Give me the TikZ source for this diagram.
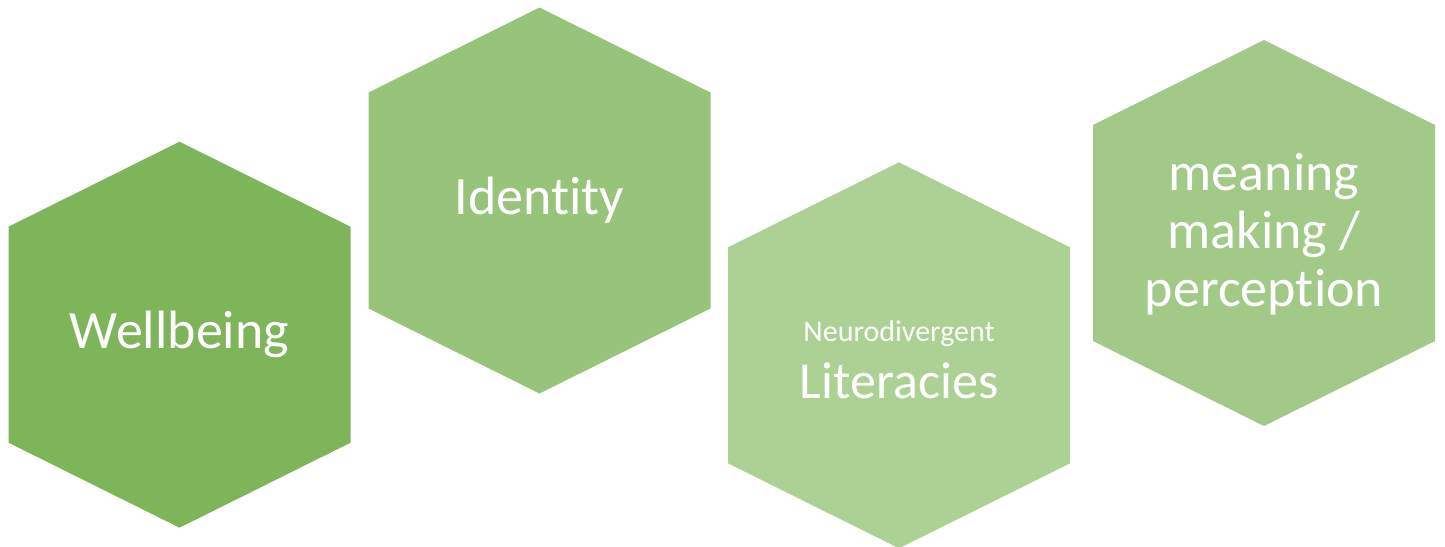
\documentclass[tikz,border=0pt]{standalone}
\usepackage{fontspec}
\setmainfont{Carlito}[Ligatures=NoCommon]
\definecolor{wellgreen}{HTML}{7EB55A}
\definecolor{identgreen}{HTML}{98C37A}
\definecolor{neurogreen}{HTML}{ADD095}
\definecolor{meangreen}{HTML}{A2C987}
\tikzset{
	hexcell/.style={fill=#1, draw=none},
	hexlabel/.style={text=white, align=center, inner sep=0pt, font=\fontsize{27}{29}\selectfont}
}
\begin{document}
\begin{tikzpicture}[x=0.5pt,y=-0.5pt]
		\useasboundingbox (0,0) rectangle (1445,546);
		
		\fill[hexcell=wellgreen] (179.5,141.7) -- ++(171,85) -- ++(0,216) -- ++(-171,85) -- ++(-171,-85) -- ++(0,-216) -- cycle;
		\node[hexlabel] (wellbeing) at (179.5,334) {Wellbeing};
		
		\fill[hexcell=identgreen] (539.5,7.5) -- ++(171,85) -- ++(0,216) -- ++(-171,85) -- ++(-171,-85) -- ++(0,-216) -- cycle;
		\node[hexlabel] (identity) at (539.5,200) {Identity};
		
		\fill[hexcell=neurogreen] (899,162.3) -- ++(171,85) -- ++(0,216) -- ++(-171,85) -- ++(-171,-85) -- ++(0,-216) -- cycle;
		\node[hexlabel, font=\fontsize{26}{28.5}\selectfont] (literacies) at (899,360) {{\fontsize{15}{18}\selectfont Neurodivergent}\\Literacies};
		
		\fill[hexcell=meangreen] (1264,40) -- ++(171,85) -- ++(0,216) -- ++(-171,85) -- ++(-171,-85) -- ++(0,-216) -- cycle;
		\node[hexlabel] (meaning) at (1264,234) {meaning\\making /\\perception};
		
\end{tikzpicture}
\end{document}
